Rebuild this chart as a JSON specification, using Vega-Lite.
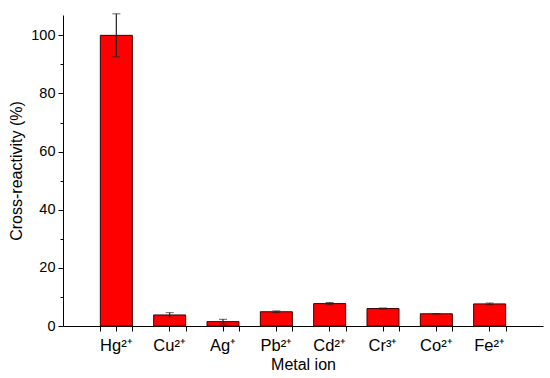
{
  "$schema": "https://vega.github.io/schema/vega-lite/v6.json",
  "width": 480,
  "height": 311,
  "autosize": "none",
  "padding": {"left": 63, "top": 15, "right": 7, "bottom": 52},
  "background": "white",
  "config": {
    "view": {"stroke": null},
    "font": "Liberation Sans",
    "axis": {
      "domainColor": "#000000",
      "tickColor": "#000000",
      "labelColor": "#000000",
      "titleColor": "#000000",
      "labelFont": "Liberation Sans",
      "titleFont": "Liberation Sans",
      "labelFontSize": 14.5,
      "titleFontSize": 16,
      "titleFontWeight": "normal",
      "grid": false,
      "domainWidth": 1,
      "tickWidth": 1
    }
  },
  "data": {
    "values": [
      {"ion": "Hg²⁺", "value": 100, "err": 7.4},
      {"ion": "Cu²⁺", "value": 3.8, "err": 0.8},
      {"ion": "Ag⁺", "value": 1.5, "err": 0.8},
      {"ion": "Pb²⁺", "value": 4.9, "err": 0.3},
      {"ion": "Cd²⁺", "value": 7.7, "err": 0.4},
      {"ion": "Cr³⁺", "value": 6.0, "err": 0.2},
      {"ion": "Co²⁺", "value": 4.2, "err": 0.1},
      {"ion": "Fe²⁺", "value": 7.6, "err": 0.3}
    ]
  },
  "resolve": {"axis": {"x": "independent", "y": "independent"}},
  "layer": [
    {
      "mark": {"type": "bar", "color": "#ff0000", "stroke": "#3a0000", "strokeWidth": 1},
      "encoding": {
        "x": {
          "field": "ion", "type": "nominal", "sort": null,
          "scale": {"paddingInner": 0.4, "paddingOuter": 0.7},
          "axis": {"orient": "bottom", "title": "Metal ion", "labelAngle": 0, "tickSize": 5, "labelPadding": 6, "labelFontSize": 16.5, "titlePadding": 3}
        },
        "y": {
          "field": "value", "type": "quantitative",
          "scale": {"domain": [0, 107], "nice": false, "zero": true},
          "axis": {"orient": "left", "title": "Cross-reactivity (%)", "values": [0, 20, 40, 60, 80, 100], "tickSize": 5, "labelPadding": 3, "titlePadding": 6}
        }
      }
    },
    {
      "mark": {"type": "bar", "opacity": 0},
      "encoding": {
        "x": {
          "field": "ion", "type": "nominal", "sort": null,
          "axis": {"orient": "bottom", "tickBand": "extent", "labels": false, "domain": false, "title": null, "tickSize": 5}
        },
        "y": {
          "field": "value", "type": "quantitative",
          "axis": {"orient": "left", "values": [10, 30, 50, 70, 90], "labels": false, "domain": false, "title": null, "tickSize": 3}
        }
      }
    },
    {
      "mark": {"type": "errorbar", "ticks": {"size": 8, "color": "#222222"}, "rule": {"color": "#222222", "strokeWidth": 1.2}},
      "encoding": {
        "x": {"field": "ion", "type": "nominal", "sort": null, "axis": null},
        "y": {"field": "value", "type": "quantitative", "axis": null},
        "yError": {"field": "err"}
      }
    }
  ]
}
